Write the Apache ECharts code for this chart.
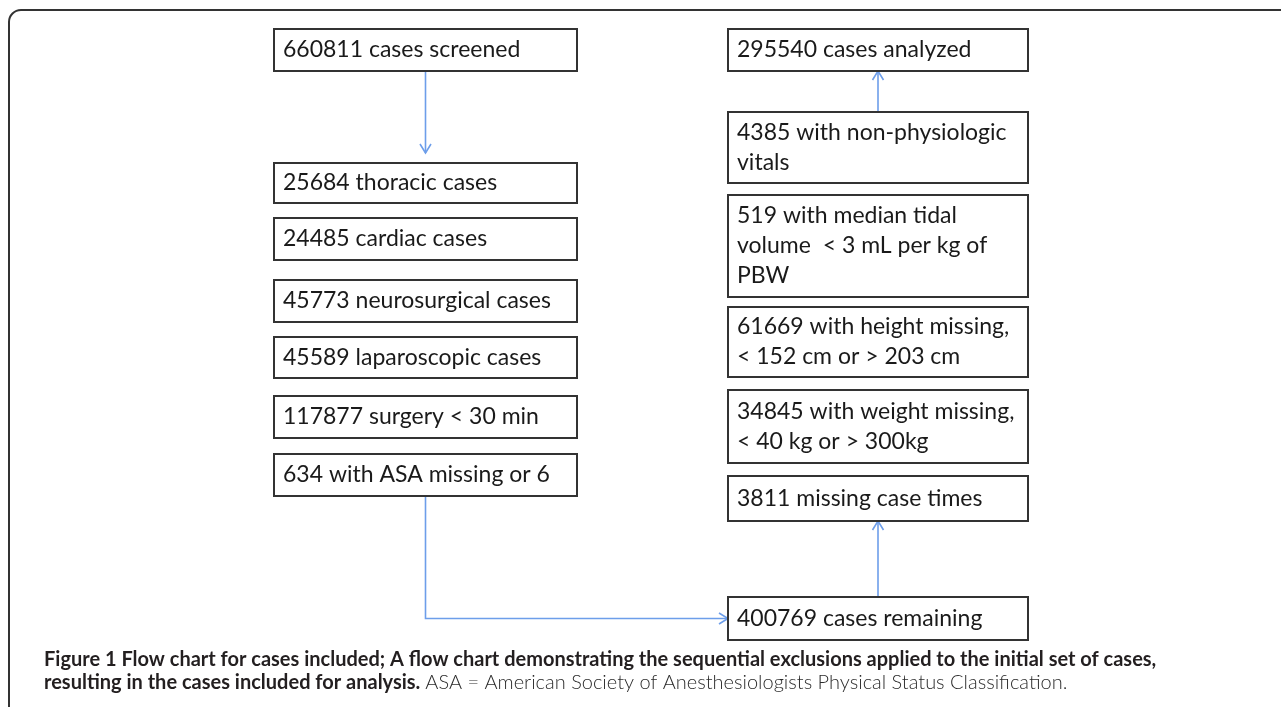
<!DOCTYPE html>
<html>
<head>
<meta charset="utf-8">
<script src="https://cdn.jsdelivr.net/npm/echarts@6/dist/echarts.min.js"></script>
<style>
  html, body { margin: 0; padding: 0; background: #fff; }
  #chart { width: 1281px; height: 707px; }
</style>
</head>
<body>
<div id="chart"></div>
<script>
// counts and wording of each box, top to bottom
var leftCounts = [660811, 25684, 24485, 45773, 45589, 117877, 634]
var leftTexts = [
  'cases screened',
  'thoracic cases',
  'cardiac cases',
  'neurosurgical cases',
  'laparoscopic cases',
  'surgery < 30 min',
  'with ASA missing or 6'
]
var rightCounts = [295540, 4385, 519, 61669, 34845, 3811, 400769]
var rightTexts = [
  'cases analyzed',
  'with non-physiologic\nvitals',
  'with median tidal\nvolume  < 3 mL per kg of\nPBW',
  'with height missing,\n< 152 cm or > 203 cm',
  'with weight missing,\n< 40 kg or > 300kg',
  'missing case times',
  'cases remaining'
]

// layout in axis units (axes = page pixels)
var leftCol = [274, 577]
var rightCol = [728, 1028]
var leftRows = [[29, 71], [163, 203], [218, 260], [280, 322], [337, 378], [396, 438], [454, 496]]
var rightRows = [[29, 71], [112, 183], [195, 297], [307, 377], [390, 463], [476, 521], [597, 640]]

var boxFont = 'Lato, "Open Sans", sans-serif'
var arrowColor = '#6d9eea'

var boxes = []
leftCounts.forEach(function (c, i) {
  boxes.push([leftCol[0], leftRows[i][0], leftCol[1], leftRows[i][1], c + ' ' + leftTexts[i]])
})
rightCounts.forEach(function (c, i) {
  boxes.push([rightCol[0], rightRows[i][0], rightCol[1], rightRows[i][1], c + ' ' + rightTexts[i]])
})

var midL = (leftCol[0] + leftCol[1]) / 2
var midR = (rightCol[0] + rightCol[1]) / 2
var remainY = (rightRows[6][0] + rightRows[6][1]) / 2
var connectors = [
  [[midL, leftRows[0][1]], [midL, leftRows[1][0] - 10]],
  [[midL, leftRows[6][1]], [midL, remainY], [rightCol[0], remainY]],
  [[midR, rightRows[6][0]], [midR, rightRows[5][1]]],
  [[midR, rightRows[1][0]], [midR, rightRows[0][1]]]
]

var myChart = echarts.init(document.getElementById('chart'))

var option = {
  backgroundColor: '#fff',
  animation: false,
  title: {
    left: 44,
    top: 648,
    padding: 0,
    text: '{b|Figure 1 Flow chart for cases included; A flow chart demonstrating the sequential exclusions applied to the initial set of cases,}\n' +
      '{b|resulting in the cases included for analysis.} {l|ASA = American Society of Anesthesiologists Physical Status Classification.}',
    textStyle: {
      rich: {
        b: { fontFamily: boxFont, fontWeight: 'bold', fontSize: 20, color: '#231f20', lineHeight: 23 },
        l: { fontFamily: boxFont, fontWeight: 300, fontSize: 20, color: '#2b2b2b', lineHeight: 23 }
      }
    }
  },
  graphic: [
    {
      type: 'rect',
      shape: { x: 9, y: 10, width: 1400, height: 800, r: 12 },
      style: { fill: 'none', stroke: '#333', lineWidth: 2 },
      silent: true
    }
  ],
  grid: { left: 0, right: 0, top: 0, bottom: 0 },
  xAxis: { type: 'value', min: 0, max: 1281, show: false },
  yAxis: { type: 'value', min: 0, max: 707, inverse: true, show: false },
  series: [
    {
      type: 'custom',
      data: connectors.map(function (c, i) { return [i] }),
      renderItem: function (params, api) {
        var pts = connectors[params.dataIndex].map(function (p) { return api.coord(p) })
        var tip = pts[pts.length - 1]
        var prev = pts[pts.length - 2]
        var dx = tip[0] - prev[0]
        var dy = tip[1] - prev[1]
        var len = Math.sqrt(dx * dx + dy * dy)
        dx /= len; dy /= len
        var back = 9, half = 5.5
        var head = [
          [tip[0] - dx * back - dy * half, tip[1] - dy * back + dx * half],
          tip,
          [tip[0] - dx * back + dy * half, tip[1] - dy * back - dx * half]
        ]
        return {
          type: 'group',
          children: [
            { type: 'polyline', shape: { points: pts }, style: { stroke: arrowColor, lineWidth: 1.6, fill: null } },
            { type: 'polyline', shape: { points: head }, style: { stroke: arrowColor, lineWidth: 1.6, fill: null } }
          ]
        }
      },
      z: 1
    },
    {
      type: 'custom',
      data: boxes,
      renderItem: function (params, api) {
        var p0 = api.coord([api.value(0), api.value(1)])
        var p1 = api.coord([api.value(2), api.value(3)])
        return {
          type: 'rect',
          shape: { x: p0[0], y: p0[1], width: p1[0] - p0[0], height: p1[1] - p0[1] },
          style: { fill: '#fff', stroke: '#333', lineWidth: 2 },
          textContent: {
            style: {
              text: boxes[params.dataIndex][4],
              fontFamily: boxFont,
              fontSize: 23,
              lineHeight: 30,
              fill: '#1a1a1a',
              align: 'left'
            }
          },
          textConfig: { position: 'insideLeft', distance: 10 }
        }
      },
      z: 2
    }
  ]
}

myChart.setOption(option)
</script>
</body>
</html>
